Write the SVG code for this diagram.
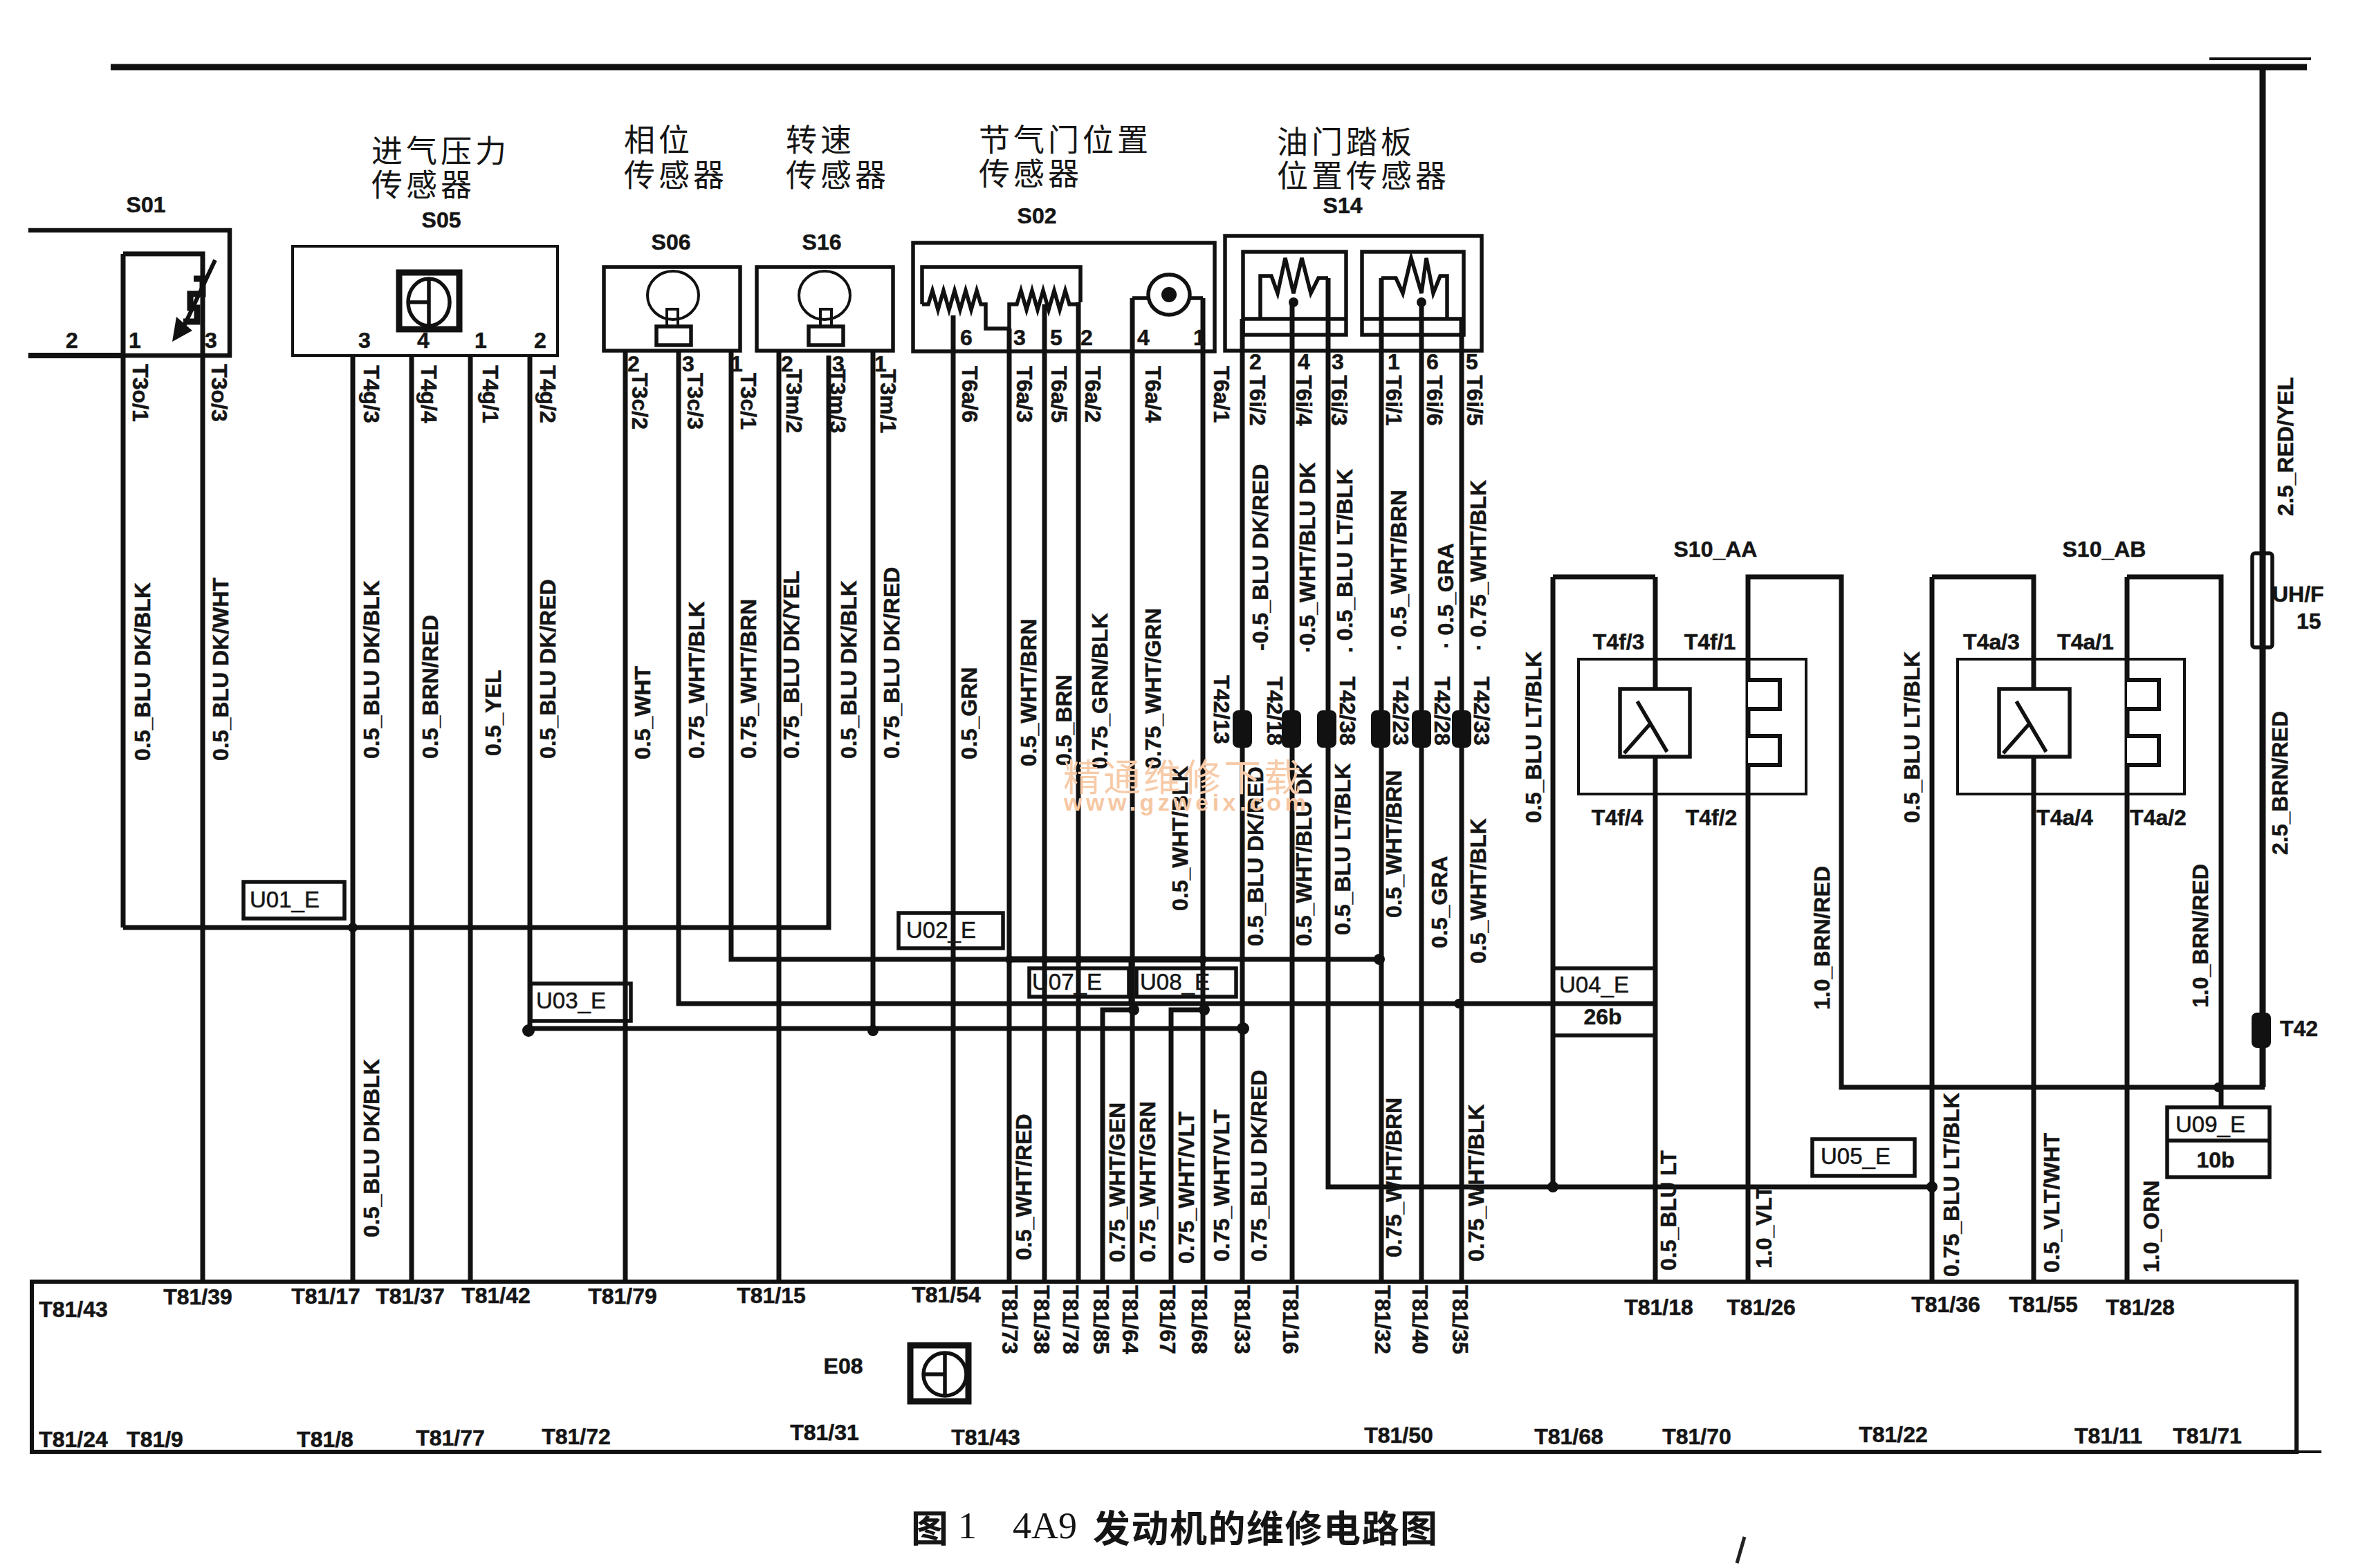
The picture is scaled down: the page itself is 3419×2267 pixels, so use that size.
<svg xmlns="http://www.w3.org/2000/svg" width="3419" height="2267" viewBox="0 0 3419 2267">
<defs>
<style>
.w{fill:none;stroke:#111;stroke-width:7;stroke-linejoin:miter}
.k{fill:none;stroke:#111;stroke-width:9}
.b{fill:none;stroke:#111;stroke-width:5.5}
.n{fill:none;stroke:#111;stroke-width:4}
.f{fill:#111;stroke:none}
text{font-family:"Liberation Sans",Arial,sans-serif;font-weight:700;font-size:32px;fill:#151515;stroke:#151515;stroke-width:.5;dominant-baseline:central}
.m{text-anchor:middle}
.u{font-weight:400;font-size:33px}
.c{font-family:"Noto Sans CJK SC",sans-serif;font-weight:400;font-size:45px;letter-spacing:5px;stroke:none}
.cap{font-family:"Noto Sans CJK SC",sans-serif;font-weight:700;font-size:54px;letter-spacing:1.5px;stroke:none}
.capl{font-family:"Liberation Serif",serif;font-weight:400;font-size:54px;stroke:none}
.wm{font-family:"Noto Sans CJK SC",sans-serif;font-weight:400;font-size:54px;fill:#f7cba9;letter-spacing:4px;stroke:none}
.wu{font-size:34px;fill:#f6c7a3;letter-spacing:5.5px;stroke:none}
</style>
</defs>
<rect width="3419" height="2267" fill="#fff"/>
<g id="connectors">
<path class="k" d="M160 97H3335"/>
<path class="n" d="M3194 85H3341"/>
<path class="k" d="M3271 97V1572"/>
<path class="w" d="M3274 1572H2662V834H2527V1851"/>
<path class="w" d="M178 1341H1198V514M178 367V1341M178 367H293V1853M510 514V1853M595 514V1853M680 514V1853M766 514V1487H1797M904 507V1853M981 507V1451H2390M1057 507V1387H1994M1126 507V1853M1262 507V1487M1378 456V1853M1459 475V1853M1510 440V1853M1559 437V1853M1637 431V1853M1739 431V1853M1796 461V1853M1868 437V1853M1920 402V1716H2793M1997 402V1853M2055 437V1853M2113 461V1853M2245 834V1716M2393 834V996M2393 1094V1853M2245 834H2393M2793 834V1853M2793 834H2940V996M2940 1094V1853M3075 834V1853M3075 834H3211V1572M3211 1572V1601M1594 1853V1460H1639M1693 1853V1460H1741"/>
<path class="k" d="M1459 1387H1740M1636 1387V1451"/>
<g class="f">
<circle cx="510" cy="1341" r="7"/><circle cx="764" cy="1490" r="9"/><circle cx="1262" cy="1490" r="8"/><circle cx="1797" cy="1487" r="9"/><circle cx="1994" cy="1387" r="8"/><circle cx="1639" cy="1460" r="8"/><circle cx="1741" cy="1460" r="8"/><circle cx="2245" cy="1716" r="8"/><circle cx="2793" cy="1716" r="8"/><circle cx="2109" cy="1451" r="7"/><circle cx="3207" cy="1572" r="7"/><circle cx="1459" cy="1387" r="6"/><circle cx="1510" cy="1387" r="6"/><circle cx="1559" cy="1387" r="6"/><circle cx="1739" cy="1387" r="6"/>
<rect x="1782" y="1027" width="28" height="54" rx="8"/><rect x="1853" y="1027" width="28" height="54" rx="8"/><rect x="1904" y="1027" width="28" height="54" rx="8"/><rect x="1982" y="1027" width="28" height="54" rx="8"/><rect x="2041" y="1027" width="28" height="54" rx="8"/><rect x="2099" y="1027" width="28" height="54" rx="8"/><rect x="3255" y="1464" width="28" height="51" rx="8"/>
</g>
</g>
<g id="S01">
<path class="w" d="M41 333H332V514H41" style="stroke-width:6.5"/>
<path class="k" d="M41 514H178" style="stroke-width:8"/>
<path class="n" d="M311 376L262 480" style="stroke-width:6"/>
<path class="k" d="M280 403H293V425H275V445H285V465H265"/>
<path class="f" d="M249 494L255 458L278 478Z"/>
<text class="m" x="211" y="296">S01</text>
<text class="m" x="104" y="492">2</text><text class="m" x="195" y="492">1</text><text class="m" x="305" y="492">3</text>
</g>
<g id="S05">
<rect class="n" x="423" y="356" width="383" height="158"/>
<rect class="k" x="577" y="394" width="87" height="82"/>
<ellipse class="b" cx="620" cy="437" rx="30" ry="34"/>
<path class="b" d="M620 403V471M592 437H620"/>
<text class="m" x="638" y="318">S05</text>
<text class="c" x="537" y="215">进气压力</text><text class="c" x="537" y="264">传感器</text>
<text class="m" x="527" y="492">3</text><text class="m" x="612" y="492">4</text><text class="m" x="695" y="492">1</text><text class="m" x="781" y="492">2</text>
</g>
<g id="S06">
<rect class="b" x="873" y="386" width="197" height="121"/>
<ellipse class="n" cx="973" cy="427" rx="37" ry="35"/>
<rect class="b" x="949" y="472" width="50" height="27"/><rect class="n" x="964" y="447" width="16" height="25"/>
<text class="m" x="970" y="350">S06</text>
<text class="c" x="902" y="199">相位</text><text class="c" x="902" y="250">传感器</text>
<text class="m" x="916" y="526">2</text><text class="m" x="995" y="526">3</text><text class="m" x="1065" y="526">1</text>
</g>
<g id="S16">
<rect class="b" x="1094" y="386" width="197" height="121"/>
<ellipse class="n" cx="1192" cy="427" rx="37" ry="35"/>
<rect class="b" x="1169" y="472" width="50" height="27"/><rect class="n" x="1186" y="447" width="16" height="25"/>
<text class="m" x="1188" y="350">S16</text>
<text class="c" x="1136" y="199">转速</text><text class="c" x="1136" y="250">传感器</text>
<text class="m" x="1138" y="526">2</text><text class="m" x="1212" y="526">3</text><text class="m" x="1273" y="526">1</text>
</g>
<g id="S02">
<rect class="b" x="1320" y="351" width="436" height="157"/>
<path class="b" d="M1333 440V386H1562V437M1333 440H1342L1348 420L1356 448L1364 420L1372 448L1380 420L1388 448L1396 420L1404 448L1412 420L1418 440H1425V475H1459V440H1470L1476 420L1484 448L1492 420L1500 448L1508 420L1516 448L1524 420L1532 448L1540 420L1546 440H1562"/>
<ellipse class="b" cx="1690" cy="426" rx="30" ry="29"/>
<path class="b" d="M1637 431H1660M1720 431H1739"/>
<circle class="f" cx="1690" cy="426" r="11"/>
<text class="m" x="1499" y="312">S02</text>
<text class="c" x="1415" y="199">节气门位置</text><text class="c" x="1415" y="248">传感器</text>
<text class="m" x="1397" y="488">6</text><text class="m" x="1474" y="488">3</text><text class="m" x="1527" y="488">5</text><text class="m" x="1571" y="488">2</text><text class="m" x="1653" y="488">4</text><text class="m" x="1734" y="488">1</text>
</g>
<g id="S14">
<rect class="b" x="1771" y="341" width="371" height="166"/>
<rect class="b" x="1797" y="364" width="149" height="120"/>
<rect class="b" x="1969" y="364" width="147" height="120"/>
<path class="b" d="M1797 461H1946M1969 461H2116"/>
<path class="b" d="M1822 461V399H1838L1847 424L1858 373L1870 424L1882 373L1895 424L1906 402H1920"/>
<path class="b" d="M2092 461V399H2082L2072 424L2062 373L2055 424L2040 373L2028 424L2018 402H1997"/>
<circle class="f" cx="1870" cy="437" r="7"/><circle class="f" cx="2055" cy="437" r="7"/>
<text class="m" x="1941" y="297">S14</text>
<text class="c" x="1846" y="202">油门踏板</text><text class="c" x="1846" y="251">位置传感器</text>
<text class="m" x="1815" y="523">2</text><text class="m" x="1885" y="523">4</text><text class="m" x="1934" y="523">3</text><text class="m" x="2015" y="523">1</text><text class="m" x="2071" y="523">6</text><text class="m" x="2128" y="523">5</text>
</g>
<g id="S10_AA">
<rect class="n" x="2282" y="953" width="329" height="195"/>
<rect class="b" x="2342" y="996" width="101" height="98"/>
<path class="b" d="M2367 1014L2410 1087M2348 1089L2387 1045"/>
<path style="fill:#fff;stroke:#111;stroke-width:6" d="M2527 983H2573V1025H2527V1064H2573V1106H2527"/>
<text class="m" x="2480" y="794">S10_AA</text>
<text class="m" x="2340" y="928">T4f/3</text><text class="m" x="2472" y="928">T4f/1</text><text class="m" x="2338" y="1182">T4f/4</text><text class="m" x="2474" y="1182">T4f/2</text>
</g>
<g id="S10_AB">
<rect class="n" x="2830" y="953" width="328" height="195"/>
<rect class="b" x="2890" y="996" width="102" height="98"/>
<path class="b" d="M2915 1014L2958 1087M2896 1089L2935 1045"/>
<path style="fill:#fff;stroke:#111;stroke-width:6" d="M3075 983H3121V1025H3075V1064H3121V1106H3075"/>
<text class="m" x="3042" y="794">S10_AB</text>
<text class="m" x="2879" y="928">T4a/3</text><text class="m" x="3015" y="928">T4a/1</text><text class="m" x="2985" y="1182">T4a/4</text><text class="m" x="3120" y="1182">T4a/2</text>
</g>
<g id="fuse">
<rect class="b" x="3256" y="800" width="29" height="136" rx="4"/>
<text x="3285" y="859">UH/F</text><text x="3320" y="898">15</text>
</g>
<g id="U01_E"><rect class="b" x="352" y="1275" width="146" height="53"/><text class="u" x="361" y="1300">U01_E</text></g>
<g id="U02_E"><rect class="b" x="1299" y="1320" width="151" height="51"/><text class="u" x="1310" y="1344">U02_E</text></g>
<g id="U03_E"><rect class="b" x="767" y="1422" width="145" height="54"/><text class="u" x="775" y="1446">U03_E</text></g>
<g id="U04_E"><path class="b" d="M2247 1400H2390M2247 1497H2390"/><text class="u" x="2254" y="1423">U04_E</text><text class="m" x="2317" y="1470">26b</text></g>
<g id="U05_E"><rect class="b" x="2620" y="1647" width="148" height="53"/><text class="u" x="2632" y="1671">U05_E</text></g>
<g id="U07_E"><rect class="b" x="1488" y="1400" width="144" height="41"/><text class="u" x="1492" y="1419">U07_E</text></g>
<g id="U08_E"><rect class="b" x="1643" y="1400" width="144" height="41"/><text class="u" x="1648" y="1419">U08_E</text></g>
<g id="U09_E"><rect class="b" x="3133" y="1601" width="148" height="101"/><path class="b" d="M3133 1649H3281"/><text class="u" x="3145" y="1625">U09_E</text><text class="m" x="3203" y="1677">10b</text></g>
<g id="E08">
<path class="w" d="M46 1853H3320V2099H46Z" style="stroke-width:6"/>
<path class="n" d="M3320 2099H3356"/>
<rect class="k" x="1316" y="1945" width="84" height="81"/>
<ellipse class="b" cx="1366" cy="1987" rx="31" ry="31"/>
<path class="b" d="M1366 1956V2018M1335 1987H1366"/>
<text class="m" x="1219" y="1975">E08</text>
<text class="m" x="106" y="1893">T81/43</text>
<text class="m" x="286" y="1875">T81/39</text><text class="m" x="471" y="1874">T81/17</text><text class="m" x="593" y="1874">T81/37</text><text class="m" x="717" y="1873">T81/42</text><text class="m" x="900" y="1874">T81/79</text><text class="m" x="1115" y="1873">T81/15</text><text class="m" x="1368" y="1872">T81/54</text>
<text class="m" x="2398" y="1890">T81/18</text><text class="m" x="2546" y="1890">T81/26</text><text class="m" x="2813" y="1886">T81/36</text><text class="m" x="2954" y="1886">T81/55</text><text class="m" x="3094" y="1890">T81/28</text>
<text class="m" x="106" y="2081">T81/24</text><text class="m" x="224" y="2081">T81/9</text><text class="m" x="470" y="2081">T81/8</text><text class="m" x="651" y="2079">T81/77</text><text class="m" x="833" y="2077">T81/72</text><text class="m" x="1192" y="2071">T81/31</text><text class="m" x="1425" y="2078">T81/43</text><text class="m" x="2022" y="2075">T81/50</text><text class="m" x="2268" y="2077">T81/68</text><text class="m" x="2453" y="2077">T81/70</text><text class="m" x="2737" y="2074">T81/22</text><text class="m" x="3048" y="2076">T81/11</text><text class="m" x="3191" y="2076">T81/71</text>
<text class="m" transform="translate(1460 1908) rotate(90)">T81/73</text><text class="m" transform="translate(1506 1908) rotate(90)">T81/38</text><text class="m" transform="translate(1548 1908) rotate(90)">T81/78</text><text class="m" transform="translate(1592 1908) rotate(90)">T81/85</text><text class="m" transform="translate(1634 1908) rotate(90)">T81/64</text><text class="m" transform="translate(1688 1908) rotate(90)">T81/67</text><text class="m" transform="translate(1734 1908) rotate(90)">T81/68</text><text class="m" transform="translate(1796 1908) rotate(90)">T81/33</text><text class="m" transform="translate(1866 1908) rotate(90)">T81/16</text><text class="m" transform="translate(1999 1908) rotate(90)">T81/32</text><text class="m" transform="translate(2053 1908) rotate(90)">T81/40</text><text class="m" transform="translate(2111 1908) rotate(90)">T81/35</text>
</g>
<g id="pin-labels">
<text class="m" transform="translate(203 568) rotate(90)">T3o/1</text><text class="m" transform="translate(317 568) rotate(90)">T3o/3</text>
<text class="m" transform="translate(537 570) rotate(90)">T4g/3</text><text class="m" transform="translate(620 570) rotate(90)">T4g/4</text><text class="m" transform="translate(709 570) rotate(90)">T4g/1</text><text class="m" transform="translate(792 570) rotate(90)">T4g/2</text>
<text class="m" transform="translate(925 580) rotate(90)">T3c/2</text><text class="m" transform="translate(1005 580) rotate(90)">T3c/3</text><text class="m" transform="translate(1082 580) rotate(90)">T3c/1</text>
<text class="m" transform="translate(1148 580) rotate(90)">T3m/2</text><text class="m" transform="translate(1211 580) rotate(90)">T3m/3</text><text class="m" transform="translate(1284 580) rotate(90)">T3m/1</text>
<text class="m" transform="translate(1402 570) rotate(90)">T6a/6</text><text class="m" transform="translate(1481 570) rotate(90)">T6a/3</text><text class="m" transform="translate(1531 570) rotate(90)">T6a/5</text><text class="m" transform="translate(1580 570) rotate(90)">T6a/2</text><text class="m" transform="translate(1667 570) rotate(90)">T6a/4</text><text class="m" transform="translate(1766 570) rotate(90)">T6a/1</text>
<text class="m" transform="translate(1818 579) rotate(90)">T6i/2</text><text class="m" transform="translate(1885 579) rotate(90)">T6i/4</text><text class="m" transform="translate(1936 579) rotate(90)">T6i/3</text><text class="m" transform="translate(2015 579) rotate(90)">T6i/1</text><text class="m" transform="translate(2074 579) rotate(90)">T6i/6</text><text class="m" transform="translate(2132 579) rotate(90)">T6i/5</text>
<text class="m" transform="translate(1766 1026) rotate(90)">T42/13</text><text class="m" transform="translate(1843 1028) rotate(90)">T42/18</text><text class="m" transform="translate(1948 1028) rotate(90)">T42/38</text><text class="m" transform="translate(2025 1028) rotate(90)">T42/23</text><text class="m" transform="translate(2085 1028) rotate(90)">T42/28</text><text class="m" transform="translate(2142 1028) rotate(90)">T42/33</text>
<text x="3296" y="1487">T42</text>
</g>
<g id="wire-labels">
<text transform="translate(206 1100) rotate(-90)">0.5_BLU DK/BLK</text>
<text transform="translate(319 1100) rotate(-90)">0.5_BLU DK/WHT</text>
<text transform="translate(537 1097) rotate(-90)">0.5_BLU DK/BLK</text>
<text transform="translate(622 1097) rotate(-90)">0.5_BRN/RED</text>
<text transform="translate(713 1093) rotate(-90)">0.5_YEL</text>
<text transform="translate(792 1097) rotate(-90)">0.5_BLU DK/RED</text>
<text transform="translate(929 1098) rotate(-90)">0.5_WHT</text>
<text transform="translate(1007 1097) rotate(-90)">0.75_WHT/BLK</text>
<text transform="translate(1082 1097) rotate(-90)">0.75_WHT/BRN</text>
<text transform="translate(1144 1097) rotate(-90)">0.75_BLU DK/YEL</text>
<text transform="translate(1227 1097) rotate(-90)">0.5_BLU DK/BLK</text>
<text transform="translate(1289 1097) rotate(-90)">0.75_BLU DK/RED</text>
<text transform="translate(1401 1098) rotate(-90)">0.5_GRN</text>
<text transform="translate(1487 1108) rotate(-90)">0.5_WHT/BRN</text>
<text transform="translate(1538 1107) rotate(-90)">0.5_BRN</text>
<text transform="translate(1590 1112) rotate(-90)">0.75_GRN/BLK</text>
<text transform="translate(1667 1112) rotate(-90)">0.75_WHT/GRN</text>
<text transform="translate(1822 941) rotate(-90)">-0.5_BLU DK/RED</text>
<text transform="translate(1890 944) rotate(-90)">·0.5_WHT/BLU DK</text>
<text transform="translate(1944 944) rotate(-90)">. 0.5_BLU LT/BLK</text>
<text transform="translate(2022 941) rotate(-90)">· 0.5_WHT/BRN</text>
<text transform="translate(2090 938) rotate(-90)">· 0.5_GRA</text>
<text transform="translate(2137 941) rotate(-90)">· 0.75_WHT/BLK</text>
<text transform="translate(1706 1317) rotate(-90)">0.5_WHT/BLK</text>
<text transform="translate(1815 1368) rotate(-90)">0.5_BLU DK/RED</text>
<text transform="translate(1885 1368) rotate(-90)">0.5_WHT/BLU DK</text>
<text transform="translate(1941 1352) rotate(-90)">0.5_BLU LT/BLK</text>
<text transform="translate(2015 1327) rotate(-90)">0.5_WHT/BRN</text>
<text transform="translate(2081 1371) rotate(-90)">0.5_GRA</text>
<text transform="translate(2137 1393) rotate(-90)">0.5_WHT/BLK</text>
<text transform="translate(2217 1190) rotate(-90)">0.5_BLU LT/BLK</text>
<text transform="translate(2764 1190) rotate(-90)">0.5_BLU LT/BLK</text>
<text transform="translate(3304 746) rotate(-90)">2.5_RED/YEL</text>
<text transform="translate(3296 1236) rotate(-90)">2.5_BRN/RED</text>
<text transform="translate(2634 1460) rotate(-90)">1.0_BRN/RED</text>
<text transform="translate(3181 1457) rotate(-90)">1.0_BRN/RED</text>
<text transform="translate(537 1789) rotate(-90)">0.5_BLU DK/BLK</text>
<text transform="translate(1480 1822) rotate(-90)">0.5_WHT/RED</text>
<text transform="translate(1615 1825) rotate(-90)">0.75_WHT/GEN</text>
<text transform="translate(1659 1825) rotate(-90)">0.75_WHT/GRN</text>
<text transform="translate(1715 1827) rotate(-90)">0.75_WHT/VLT</text>
<text transform="translate(1766 1824) rotate(-90)">0.75_WHT/VLT</text>
<text transform="translate(1820 1824) rotate(-90)">0.75_BLU DK/RED</text>
<text transform="translate(2015 1818) rotate(-90)">0.75_WHT/BRN</text>
<text transform="translate(2134 1824) rotate(-90)">0.75_WHT/BLK</text>
<text transform="translate(2412 1837) rotate(-90)">0.5_BLU LT</text>
<text transform="translate(2550 1834) rotate(-90)">1.0_VLT</text>
<text transform="translate(2821 1846) rotate(-90)">0.75_BLU LT/BLK</text>
<text transform="translate(2966 1840) rotate(-90)">0.5_VLT/WHT</text>
<text transform="translate(3110 1840) rotate(-90)">1.0_ORN</text>
</g>
<g id="watermark">
<text class="wm" x="1537" y="1120">精通维修下载</text>
<text class="wu" x="1538" y="1160">www.gzweix.com</text>
</g>
<g id="caption">
<text class="cap" x="1317" y="2206">图</text><text class="capl" x="1385" y="2206">1</text>
<text class="capl" x="1464" y="2206">4A9</text><text class="cap" x="1580" y="2206">发动机的维修电路图</text>
</g>
<path d="M2522 2222L2511 2260" stroke="#222" stroke-width="5" fill="none"/>
</svg>
